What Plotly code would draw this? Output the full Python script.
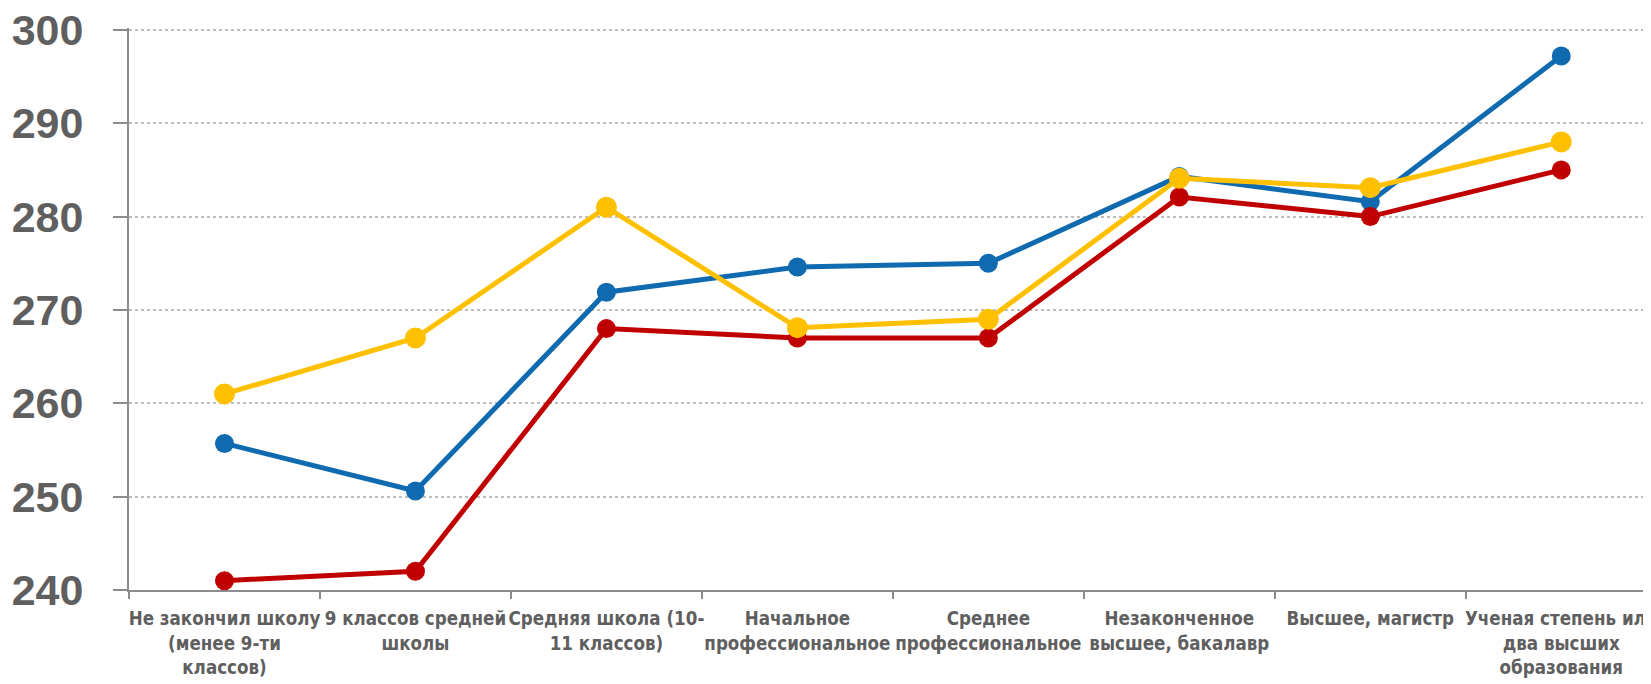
import plotly.graph_objects as go

categories = [
    "Не закончил школу<br>(менее 9-ти<br>классов)",
    "9 классов средней<br>школы",
    "Средняя школа (10-<br>11 классов)",
    "Начальное<br>профессиональное",
    "Среднее<br>профессиональное",
    "Незаконченное<br>высшее, бакалавр",
    "Высшее, магистр",
    "Ученая степень или<br>два высших<br>образования",
]
blue_values = [255.7, 250.6, 271.9, 274.6, 275.0, 284.3, 281.6, 297.2]
red_values = [241.0, 242.0, 268.0, 267.0, 267.0, 282.1, 280.0, 285.0]
yellow_values = [261.0, 267.0, 281.0, 268.1, 269.0, 284.1, 283.1, 288.0]
y_ticks = [240, 250, 260, 270, 280, 290, 300]

BLUE = "#0F6AB0"
RED = "#C00000"
YELLOW = "#FFC000"

fig = go.Figure()
for vals, col, ms in [(blue_values, BLUE, 19), (red_values, RED, 19), (yellow_values, YELLOW, 21)]:
    fig.add_trace(go.Scatter(
        x=categories, y=vals, mode="lines+markers",
        line=dict(color=col, width=5),
        marker=dict(color=col, size=ms),
        showlegend=False, cliponaxis=False,
    ))

# page body has an 8px default margin, so the figure is offset by (8, 8)
fig.update_layout(
    width=1643, height=676,
    margin=dict(l=121, r=0, t=20, b=94),
    paper_bgcolor="white", plot_bgcolor="white",
    showlegend=False,
)
fig.update_xaxes(
    type="category",
    range=[-0.5, 7.47],
    tickson="boundaries",
    ticks="outside", ticklen=7, tickwidth=2, tickcolor="#8c8c8c",
    showline=True, linecolor="#8c8c8c", linewidth=2,
    showgrid=False, zeroline=False,
    tickfont=dict(family="DejaVu Sans Condensed, sans-serif",
                  size=18.6, color="#5f5f5f", weight="bold"),
    tickangle=0,
    automargin=False,
    ticklabelstandoff=11,
    ticklabeloverflow="allow",
)
fig.update_yaxes(
    range=[240, 300.2],
    tickmode="array", tickvals=y_ticks, ticktext=[str(v) for v in y_ticks],
    ticks="outside", ticklen=14, tickwidth=2, tickcolor="#8c8c8c",
    showline=True, linecolor="#8c8c8c", linewidth=2,
    showgrid=True, gridcolor="#bdbdbd", griddash="dot", gridwidth=1.5,
    zeroline=False,
    tickfont=dict(family="Liberation Sans, Arial, sans-serif", size=43, color="#5f5f5f", weight="bold"),
    automargin=False,
    ticklabelstandoff=21,
    ticklabeloverflow="allow",
)
fig.write_html("out.html")
